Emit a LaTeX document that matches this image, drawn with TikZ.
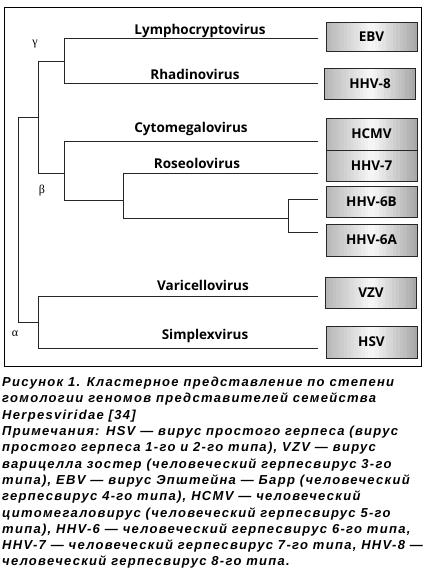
\documentclass[tikz,border=0pt]{standalone}
\usepackage{fontspec}
\setmainfont{Liberation Sans}
\newfontfamily\labfont{Open Sans}
\newfontfamily\grkfont{Liberation Serif}
\newfontfamily\capfont[LetterSpace=10]{Liberation Sans}
\begin{document}
\begin{tikzpicture}[x=1pt,y=-1pt,
  tree/.style={line width=0.9pt, draw=black!85},
  vbox/.style={draw=black!85, line width=0.9pt, inner sep=0pt,
    minimum width=91pt, font=\labfont\bfseries\fontsize{13.5}{15}\selectfont,
    path picture={
      \foreach \p [count=\k from 0] in {28,26,24,22,20,18,16,14,12,10,8,6,4,4,6,9,11,14,16,19,21,24,26,29,31,34}{
        \fill[black!\p] ([xshift=\k*3.5pt]path picture bounding box.south west)
          rectangle ([xshift=\k*3.5pt+3.6pt]path picture bounding box.north west);
      }}},
  genus/.style={anchor=base, inner sep=0pt, font=\labfont\bfseries\fontsize{13.5}{15}\selectfont},
  greek/.style={inner sep=0pt, font=\grkfont\fontsize{12}{13}\selectfont}]
\useasboundingbox (0,0) rectangle (425,571);
\draw[line width=1pt] (4,7) rectangle (421,366);
% boxes
\node[vbox, minimum height=29pt] (ebv) at (371.5,36.5) {EBV};
\node[vbox, minimum height=31pt] (hhv8) at (370,83.5) {HHV-8};
\node[vbox, minimum height=32pt] (hcmv) at (371.5,134) {HCMV};
\node[vbox, minimum height=31pt] (hhv7) at (371.5,165.5) {HHV-7};
\node[vbox, minimum height=31pt] (hhv6b) at (371.5,201.5) {HHV-6B};
\node[vbox, minimum height=32pt] (hhv6a) at (371.5,240) {HHV-6A};
\node[vbox, minimum height=31pt] (vzv) at (371,292.5) {VZV};
\node[vbox, minimum height=32pt] (hsv) at (371.5,342) {HSV};
% leaf ends
\coordinate (eEBV) at (318,38);
\coordinate (eHHV8) at (318,83);
\coordinate (eHCMV) at (318,141);
\coordinate (eHHV7) at (318,173);
\coordinate (eHHV6B) at (318,199);
\coordinate (eHHV6A) at (318,232);
\coordinate (eVZV) at (318,296);
\coordinate (eHSV) at (318,348);
% internal nodes
\coordinate (gam) at (64,61);
\coordinate (gamL) at (38,61);
\coordinate (bet) at (64,173);
\coordinate (betL) at (38,173);
\coordinate (ros) at (123,200);
\coordinate (rosL) at (64,200);
\coordinate (six) at (288,218);
\coordinate (sixL) at (123,218);
\coordinate (gb) at (38,117);
\coordinate (rootT) at (18,117);
\coordinate (rootB) at (18,322);
\coordinate (alp) at (38,322);
% tree
\draw[tree] (eEBV) -| (64,83) -- (eHHV8);
\draw[tree] (gam) -- (gamL) -- (betL) -- (bet);
\draw[tree] (eHCMV) -| (rosL) -- (ros);
\draw[tree] (eHHV7) -| (sixL) -- (six);
\draw[tree] (eHHV6B) -| (288,232) -- (eHHV6A);
\draw[tree] (gb) -- (rootT) -- (rootB) -- (alp);
\draw[tree] (eVZV) -| (38,348) -- (eHSV);
% genus labels
\node[genus] (lymph) at (200,34) {Lymphocryptovirus};
\node[genus] (rhad) at (195,79) {Rhadinovirus};
\node[genus] (cyto) at (191,132) {Cytomegalovirus};
\node[genus] (roseo) at (197,168) {Roseolovirus};
\node[genus] (vari) at (203,290) {Varicellovirus};
\node[genus] (simp) at (205,339) {Simplexvirus};
% greek
\node[greek] (lg) at (35,44) {γ};
\node[greek] (lb) at (42,191) {β};
\node[greek] (la) at (15,334) {α};
% caption
\node[anchor=north west, inner sep=0pt, align=left,
  font=\capfont\bfseries\itshape\fontsize{13}{16.3}\selectfont] (cap) at (2,377) {%
Рисунок 1. Кластерное представление по степени\\
гомологии геномов представителей семейства\\
Herpesviridae [34]\\
Примечания: HSV — вирус простого герпеса (вирус\\
простого герпеса 1-го и 2-го типа), VZV — вирус\\
варицелла зостер (человеческий герпесвирус 3-го\\
типа), EBV — вирус Эпштейна — Барр (человеческий\\
герпесвирус 4-го типа), HCMV — человеческий\\
цитомегаловирус (человеческий герпесвирус 5-го\\
типа), HHV-6 — человеческий герпесвирус 6-го типа,\\
HHV-7 — человеческий герпесвирус 7-го типа, HHV-8 —\\
человеческий герпесвирус 8-го типа.};
\end{tikzpicture}
\end{document}
